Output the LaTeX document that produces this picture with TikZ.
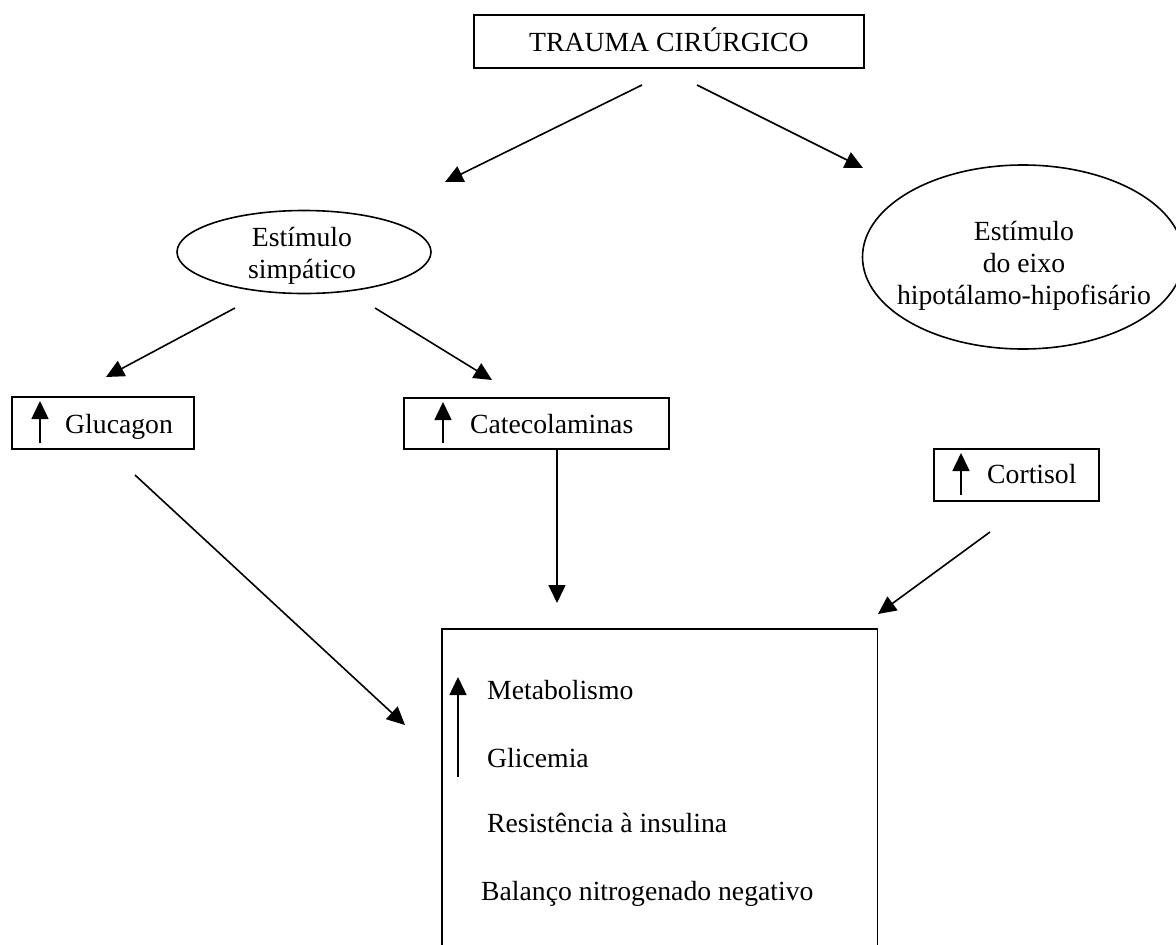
\documentclass[tikz,border=0pt]{standalone}
\usepackage{fontspec}
\setmainfont{Liberation Serif}
\usetikzlibrary{arrows.meta,shapes.geometric}
\tikzset{
  every node/.style={font=\fontsize{27.7}{32}\selectfont},
  arr/.style={line width=1.6pt,-{Triangle[length=18pt,width=17pt]}},
  hbox/.style={draw,line width=1.8pt,rectangle,inner sep=0pt,anchor=north west},
  oval/.style={draw,line width=1.6pt,ellipse,inner sep=0pt},
  lbl/.style={inner sep=0pt,anchor=base west},
  ctext/.style={inner sep=0pt,align=center},
}
\begin{document}
\begin{tikzpicture}[x=1pt,y=-1pt]
\useasboundingbox (0,0) rectangle (1176,945);

% source box
\node[hbox,minimum width=390pt,minimum height=53pt] (trauma) at (473,14) {};
\node[lbl] (traumatxt) at (529,51) {TRAUMA CIRÚRGICO};

% the two stimuli
\node[oval,minimum width=254pt,minimum height=83pt] (simp) at (304,252) {};
\node[ctext] (simptxt) at (302,256) {Estímulo\\simpático};
\node[oval,minimum width=321pt,minimum height=184pt] (hpa) at (1023,257) {};
\node[ctext] (hpatxt) at (1024,266) {Estímulo\\do eixo\\hipotálamo-hipofisário};

% hormones
\node[hbox,minimum width=182pt,minimum height=52pt] (gluc) at (11,396) {};
\node[lbl] (gluctxt) at (65,433) {Glucagon};
\node[hbox,minimum width=265pt,minimum height=51pt] (cat) at (403,397) {};
\node[lbl] (cattxt) at (470,433) {Catecolaminas};
\node[hbox,minimum width=165pt,minimum height=52pt] (cort) at (933,448) {};
\node[lbl] (corttxt) at (987,483) {Cortisol};

% effects (box open at the bottom)
\node[inner sep=0pt,minimum width=435pt,minimum height=316pt,anchor=north west] (res) at (442,629) {};
\draw[line width=1.8pt] (res.south west) |- (res.north east) -- (res.south east);
\node[lbl] (met) at (487,699) {Metabolismo};
\node[lbl] (gli) at (487,767) {Glicemia};
\node[lbl] (ins) at (487,832) {Resistência à insulina};
\node[lbl] (bal) at (481,900) {Balanço nitrogenado negativo};

% "increase" marks
\coordinate (ua1) at (40,443);  \coordinate (ub1) at (40,401);
\coordinate (ua2) at (443,443); \coordinate (ub2) at (443,402);
\coordinate (ua3) at (961,495); \coordinate (ub3) at (961,453);
\coordinate (ua4) at (458,777); \coordinate (ub4) at (458,677);
\draw[arr] (ua1) -- (ub1);
\draw[arr] (ua2) -- (ub2);
\draw[arr] (ua3) -- (ub3);
\draw[arr] (ua4) -- (ub4);

% connectors
\coordinate (a1s) at (642,85);  \coordinate (a1e) at (445,182);
\coordinate (a2s) at (697,85);  \coordinate (a2e) at (863,168);
\coordinate (a3s) at (235,308); \coordinate (a3e) at (106,377);
\coordinate (a4s) at (375,308); \coordinate (a4e) at (492,380);
\coordinate (a5s) at (135,475); \coordinate (a5e) at (405,725);
\coordinate (a6s) at (557,448); \coordinate (a6e) at (557,603);
\coordinate (a7s) at (990,532); \coordinate (a7e) at (878,614);
\draw[arr] (a1s) -- (a1e);
\draw[arr] (a2s) -- (a2e);
\draw[arr] (a3s) -- (a3e);
\draw[arr] (a4s) -- (a4e);
\draw[arr] (a5s) -- (a5e);
\draw[arr] (a6s) -- (a6e);
\draw[arr] (a7s) -- (a7e);
\end{tikzpicture}
\end{document}
